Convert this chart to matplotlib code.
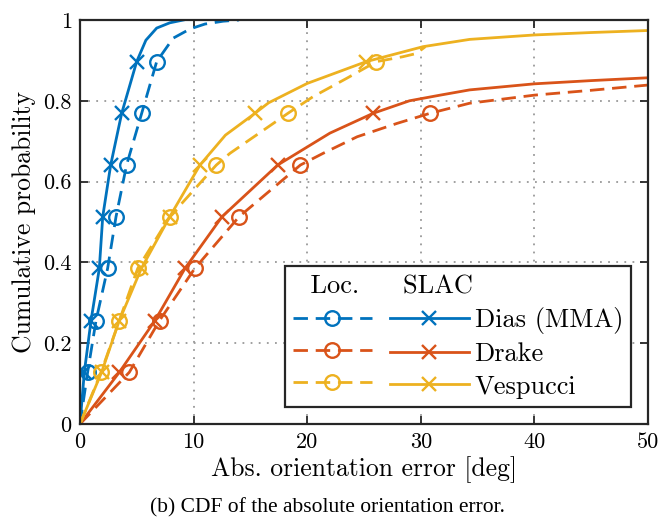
import matplotlib
matplotlib.use('Agg')
import matplotlib.pyplot as plt
from matplotlib.lines import Line2D

# colours (MATLAB default order)
c_blue = '#0072BD'
c_red = '#D95319'
c_yel = '#EDB120'

# --- data (x in deg, y = cumulative probability) ---
dias_slac_x = [0, 0.38, 0.97, 1.7, 2.0, 2.7, 3.67, 4.99, 5.8, 6.75, 7.9, 9.1]
dias_slac_y = [0, .128, .256, .385, .513, .641, .769, .897, .95, .98, .993, 1.0]
dias_slac_m = [1, 2, 3, 4, 5, 6, 7]

dias_loc_x = [0, 0.67, 1.41, 2.43, 3.17, 4.1, 5.43, 6.75, 8.2, 9.7, 11.0, 12.6, 14.0]
dias_loc_y = [0, .128, .256, .385, .513, .641, .769, .897, .955, .978, .99, .997, 1.0]
dias_loc_m = [1, 2, 3, 4, 5, 6, 7]

drake_slac_x = [0, 3.46, 6.6, 9.24, 12.5, 17.4, 22.0, 25.8, 29.0, 31.7, 34.3, 40, 45, 50]
drake_slac_y = [0, .128, .256, .385, .513, .641, .72, .769, .80, .814, .827, .842, .850, .857]
drake_slac_m = [1, 2, 3, 4, 5, 7]

drake_loc_x = [0, 4.34, 7.0, 10.1, 14.0, 19.4, 21.4, 24.4, 27.9, 30.8, 34.3, 40, 45, 50]
drake_loc_y = [0, .128, .256, .385, .513, .641, .67, .711, .744, .769, .794, .814, .826, .839]
drake_loc_m = [1, 2, 3, 4, 5, 9]

vesp_slac_x = [0, 1.9, 3.46, 5.4, 7.9, 10.56, 12.8, 15.4, 16.6, 20.0, 25.2, 30.2, 34.3, 40, 45, 50]
vesp_slac_y = [0, .128, .256, .385, .513, .641, .715, .769, .795, .843, .897, .934, .952, .963, .969, .974]
vesp_slac_m = [1, 2, 3, 4, 5, 7, 10]

vesp_loc_x = [0, 1.85, 3.46, 5.08, 7.9, 12.0, 13.2, 18.3, 20.5, 23.5, 26.1, 28.4, 29.6, 30.4]
vesp_loc_y = [0, .128, .256, .385, .513, .641, .67, .769, .81, .856, .897, .909, .917, .934]
vesp_loc_m = [1, 2, 3, 4, 5, 7, 10]

names = ['Dias (MMA)', 'Drake', 'Vespucci']
xticks = [0, 10, 20, 30, 40, 50]
yticks = [0, 0.2, 0.4, 0.6, 0.8, 1]
ytick_labels = ['0', '0.2', '0.4', '0.6', '0.8', '1']

plt.rcParams['font.family'] = ['cmr10', 'DejaVu Serif']
plt.rcParams['axes.unicode_minus'] = False

fig = plt.figure(figsize=(6.58, 5.29), dpi=100)
ax = fig.add_axes([80/658, 105/529, 568/658, 404/529])

lw = 2.0
dash = (0, (5.2, 2.8))
loc_style = dict(ls=dash, lw=lw, marker='o', ms=10.5, mfc='none', mew=1.7)
slac_style = dict(ls='-', lw=lw, marker='x', ms=9.5, mew=1.7)

series = [
    (c_blue, dias_loc_x, dias_loc_y, dias_loc_m, dias_slac_x, dias_slac_y, dias_slac_m),
    (c_red, drake_loc_x, drake_loc_y, drake_loc_m, drake_slac_x, drake_slac_y, drake_slac_m),
    (c_yel, vesp_loc_x, vesp_loc_y, vesp_loc_m, vesp_slac_x, vesp_slac_y, vesp_slac_m),
]

h_loc = []
h_slac = []
for c, lx, ly, lm, sx, sy, sm in series:
    ax.plot(lx, ly, color=c, markevery=lm, **loc_style)
    ax.plot(sx, sy, color=c, markevery=sm, **slac_style)
    h_loc.append(Line2D([], [], color=c, **loc_style))
    h_slac.append(Line2D([], [], color=c, **slac_style))

ax.set_xlim(0, 50)
ax.set_ylim(0, 1)
ax.set_xticks(xticks)
ax.set_xticklabels([str(t) for t in xticks])
ax.set_yticks(yticks)
ax.set_yticklabels(ytick_labels)
ax.tick_params(direction='in', length=6, width=1.3, top=True, right=True,
               labelsize=16, pad=6, colors='#262626', labelcolor='black')
ax.grid(True, ls=(0, (1, 3.5)), color='#999999', lw=1.3)
for s in ax.spines.values():
    s.set_linewidth(1.6)
    s.set_color('#262626')

ax.set_xlabel('Abs. orientation error [deg]', fontsize=18.5, labelpad=3)
ax.set_ylabel('Cumulative probability', fontsize=18.5, labelpad=5)

leg = ax.legend(h_loc + h_slac, ['', '', ''] + names, ncol=2,
                loc='lower right', bbox_to_anchor=(0.970, 0.043),
                borderaxespad=0, fontsize=19, handlelength=3.0,
                handletextpad=0.22, columnspacing=0.45, labelspacing=0.33,
                fancybox=False, framealpha=1, edgecolor='#262626',
                title='  Loc.     SLAC', title_fontsize=19,
                alignment='left', borderpad=0.3)
leg.get_frame().set_linewidth(1.6)

fig.text(0.498, 0.040, '(b) CDF of the absolute orientation error.',
         ha='center', va='center', fontsize=15.5, family='Liberation Serif')

fig.savefig('out.png', dpi=100)
